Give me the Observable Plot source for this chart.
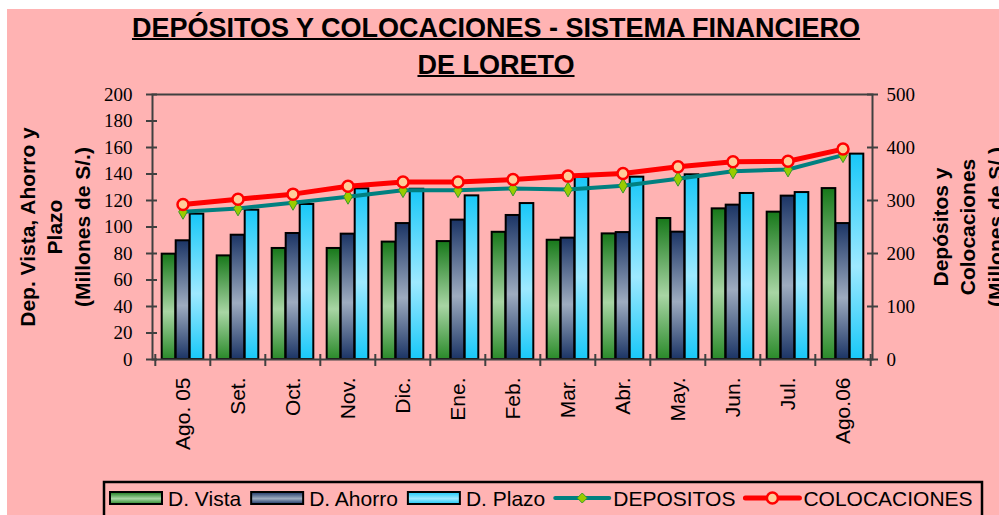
<!DOCTYPE html>
<html><head><meta charset="utf-8">
<script src="https://cdn.jsdelivr.net/npm/d3@7"></script>
<script src="https://cdn.jsdelivr.net/npm/@observablehq/plot@0.6"></script>
<style>
html,body{margin:0;padding:0;background:#fff;overflow:hidden;}
#page{position:relative;width:999px;height:515px;overflow:hidden;}
#bg{position:absolute;left:7px;top:9px;width:1000px;height:520px;background:#ffb3b3;}
#title{position:absolute;left:0;width:992px;top:10px;text-align:center;font-family:"Liberation Sans",Arial,sans-serif;font-weight:bold;font-size:27px;line-height:37px;text-decoration:underline;text-decoration-thickness:2px;color:#000;}
#chart{position:absolute;left:0;top:0;}
#legend{position:absolute;left:103px;top:481px;}
</style></head>
<body><div id="page"><div id="bg"></div>
<svg width="0" height="0" style="position:absolute"><defs>
<linearGradient id="gVista" x1="0" y1="0" x2="0" y2="1">
<stop offset="0" stop-color="#17781a"/><stop offset="0.55" stop-color="#a8d5a4"/><stop offset="1" stop-color="#2a8a2a"/></linearGradient>
<linearGradient id="gAhorro" x1="0" y1="0" x2="0" y2="1">
<stop offset="0" stop-color="#1b3465"/><stop offset="0.55" stop-color="#9eacc0"/><stop offset="1" stop-color="#1b3465"/></linearGradient>
<linearGradient id="gPlazo" x1="0" y1="0" x2="0" y2="1">
<stop offset="0" stop-color="#18c8f8"/><stop offset="0.55" stop-color="#9ee9ff"/><stop offset="1" stop-color="#18c8f8"/></linearGradient>
</defs></svg>
<div id="chart"></div>
<div id="title">DEPÓSITOS Y COLOCACIONES - SISTEMA FINANCIERO<br>DE LORETO</div>
<div id="legend"></div></div>
<script>
// ---- data ----
const months = ["Ago. 05","Set.","Oct.","Nov.","Dic.","Ene.","Feb.","Mar.","Abr.","May.","Jun.","Jul.","Ago.06"];
const vista = [79.5, 78.2, 83.8, 83.8, 88.6, 89.0, 96.0, 90.0, 94.8, 106.4, 113.7, 111.2, 129.0];
const ahorro = [89.6, 93.8, 95.1, 94.6, 102.6, 105.2, 108.7, 91.6, 95.8, 96.1, 116.5, 123.3, 102.6];
const plazo = [109.7, 112.7, 117.0, 128.8, 128.5, 123.5, 117.7, 137.4, 137.6, 139.4, 125.3, 126.0, 155.0];
const depositos = [278.6, 285.0, 295.6, 307.0, 319.5, 319.5, 322.6, 320.8, 328.0, 341.0, 355.0, 358.5, 385.5];
const colocaciones = [292.5, 302.5, 312.0, 327.0, 335.0, 335.0, 339.6, 346.0, 351.0, 363.5, 373.0, 374.0, 397.0];
const leftTicks = [0,20,40,60,80,100,120,140,160,180,200];
const rightTicks = [0,100,200,300,400,500];
const seriesNames = ["D. Vista","D. Ahorro","D. Plazo","DEPOSITOS","COLOCACIONES"];
const leftLabel = "Dep. Vista, Ahorro y\nPlazo\n(Millones de S/.)";
const rightLabel = "Depósitos y\nColocaciones\n(Millones de S/.)";

// ---- layout ----
const W=999, H=470, mL=152, mR=127, mT=94, mB=111;
const fw = W-mL-mR, fh = H-mT-mB;
const bw = fw/months.length;
const barW = 14, off = (bw-3*barW)/2;
const ratio = 200/500;
const axisColor = "#404040";
const fills = ["url(#gVista)","url(#gAhorro)","url(#gPlazo)"];
const teal = "#008080", red = "#ff0000";

const rows = months.map((m,i)=>({month:m, vista:vista[i], ahorro:ahorro[i], plazo:plazo[i],
  dep:depositos[i]*ratio, col:colocaciones[i]*ratio}));

const barOpts = (k, j) => ({x:"month", y:k, fill:fills[j], stroke:"#000", strokeWidth:2,
  insetLeft: off + j*barW, insetRight: bw - off - (j+1)*barW});

const plot = Plot.plot({
  width:W, height:H, marginLeft:mL, marginRight:mR, marginTop:mT, marginBottom:mB,
  style:{background:"none", color:"#000", overflow:"visible"},
  x:{type:"band", domain:months, paddingInner:0, paddingOuter:0, label:null},
  y:{domain:[0,200], label:null},
  marks:[
    Plot.barY(rows, barOpts("vista",0)),
    Plot.barY(rows, barOpts("ahorro",1)),
    Plot.barY(rows, barOpts("plazo",2)),
    Plot.frame({stroke:axisColor, strokeWidth:2}),
    Plot.ruleY(leftTicks, {y:d=>d, stroke:axisColor, strokeWidth:2, insetLeft:-6, insetRight:fw-5}),
    Plot.ruleY(rightTicks, {y:d=>d*ratio, stroke:axisColor, strokeWidth:2, insetLeft:fw-5, insetRight:-6}),
    Plot.ruleX(months, {x:d=>d, dx:-bw/2, stroke:axisColor, strokeWidth:2, insetTop:fh-5, insetBottom:-7}),
    Plot.ruleX([months[months.length-1]], {x:d=>d, dx:bw/2, stroke:axisColor, strokeWidth:2, insetTop:fh-5, insetBottom:-7}),
    Plot.axisY(leftTicks, {anchor:"left", tickSize:0, tickPadding:20, fontSize:19, fontFamily:"Liberation Serif", label:null}),
    Plot.axisY(rightTicks.map(d=>d*ratio), {anchor:"right", tickSize:0, tickPadding:14, fontSize:19, fontFamily:"Liberation Serif", label:null, tickFormat:d=>String(Math.round(d/ratio))}),
    Plot.axisX({tickRotate:-90, tickSize:0, tickPadding:18, fontSize:21, fontFamily:"Liberation Sans", label:null}),
    Plot.lineY(rows, {x:"month", y:"dep", stroke:teal, strokeWidth:4}),
    Plot.dot(rows, {x:"month", y:"dep", symbol:"diamond", r:4.5, fill:"#99cc00", stroke:"#3a9a2a", strokeWidth:1}),
    Plot.lineY(rows, {x:"month", y:"col", stroke:red, strokeWidth:5}),
    Plot.dot(rows, {x:"month", y:"col", r:5.5, fill:"#ffcc99", stroke:red, strokeWidth:2.5}),
    Plot.text([leftLabel], {text:d=>d, frameAnchor:"left", dx:-99, rotate:-90, fontSize:21, fontWeight:"bold", fontFamily:"Liberation Sans", lineHeight:1.3, textAnchor:"middle"}),
    Plot.text([rightLabel], {text:d=>d, frameAnchor:"right", dx:94, rotate:-90, fontSize:21, fontWeight:"bold", fontFamily:"Liberation Sans", lineHeight:1.3, textAnchor:"middle"})
  ]
});
document.getElementById("chart").appendChild(plot);

// ---- legend ----
const lg = d3.select("#legend").append("svg").attr("width", 882).attr("height", 40)
  .style("overflow","visible").style("display","block");
lg.append("rect").attr("x",1).attr("y",1).attr("width",878).attr("height",60)
  .attr("fill","none").attr("stroke","#000").attr("stroke-width",2.5);
let cx = 7;
const cy = 17;
seriesNames.forEach((name, i) => {
  if (i < 3) {
    lg.append("rect").attr("x",cx).attr("y",cy-6).attr("width",52).attr("height",12)
      .attr("fill",fills[i]).attr("stroke","#000").attr("stroke-width",2);
    cx += 52 + 6;
  } else {
    const col = i === 3 ? teal : red;
    lg.append("line").attr("x1",cx).attr("x2",cx+54).attr("y1",cy).attr("y2",cy)
      .attr("stroke",col).attr("stroke-width", i===3?4:5).attr("stroke-linecap","round");
    const mx = cx + 27;
    if (i === 3) {
      lg.append("path").attr("d",`M${mx},${cy-5}L${mx+5},${cy}L${mx},${cy+5}L${mx-5},${cy}Z`)
        .attr("fill","#99cc00").attr("stroke","#3a9a2a").attr("stroke-width",1);
    } else {
      lg.append("circle").attr("cx",mx).attr("cy",cy).attr("r",5.5)
        .attr("fill","#ffcc99").attr("stroke",red).attr("stroke-width",2.5);
    }
    cx += 54 + 4;
  }
  const t = lg.append("text").attr("x",cx).attr("y",cy+7.5).text(name)
    .attr("font-family","Liberation Sans").attr("font-size",21).attr("fill","#000");
  cx += t.node().getComputedTextLength() + 10;
});
</script>
</body></html>
